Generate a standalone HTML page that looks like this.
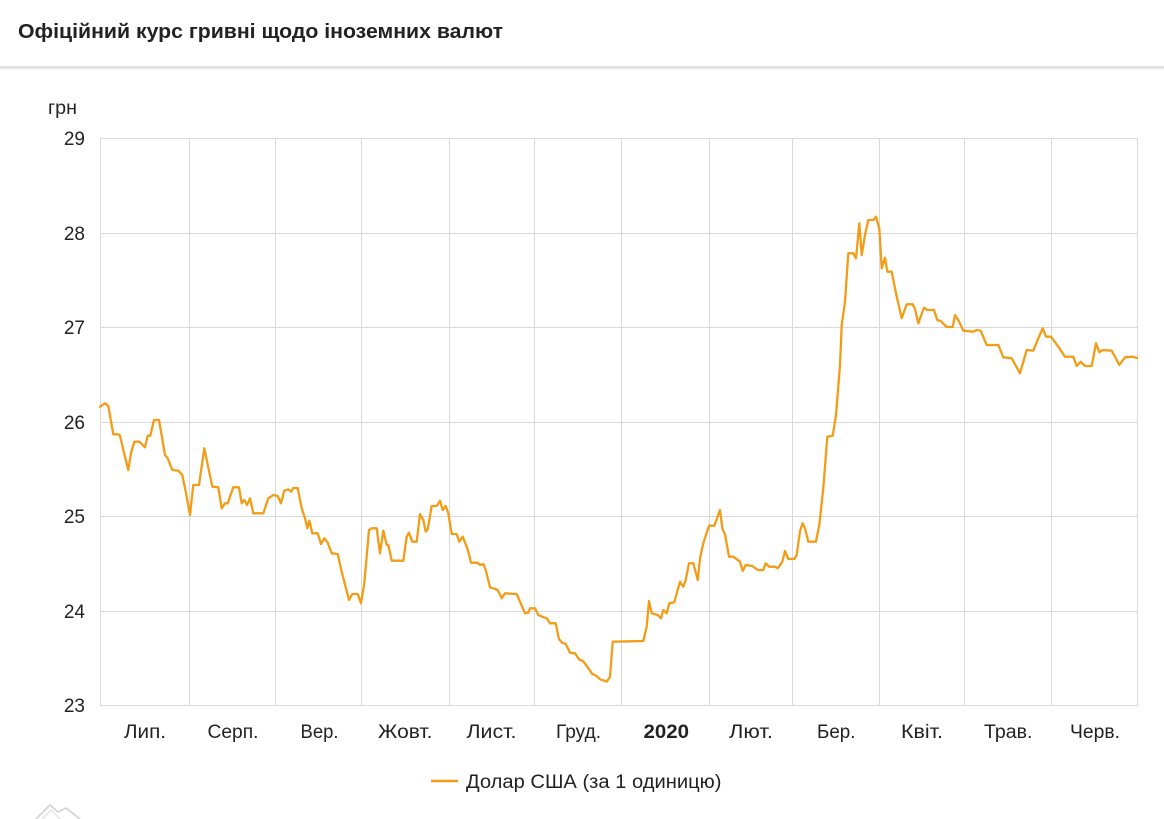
<!DOCTYPE html>
<html>
<head>
<meta charset="utf-8">
<style>
  html, body { margin: 0; padding: 0; background: #ffffff; }
  body { width: 1164px; height: 819px; overflow: hidden; }
  svg { display: block; }
  text { font-family: "Liberation Sans", "DejaVu Sans", sans-serif; fill: #222222; }
</style>
</head>
<body>
<svg width="1164" height="819" viewBox="0 0 1164 819" xmlns="http://www.w3.org/2000/svg">
  <rect x="0" y="0" width="1164" height="819" fill="#ffffff"/>

  <!-- Header -->
  <text x="18" y="38" font-size="20" font-weight="bold" textLength="485" lengthAdjust="spacingAndGlyphs" fill="#212121">Офіційний курс гривні щодо іноземних валют</text>
  <rect x="0" y="66" width="1164" height="1" fill="#e6e6e6"/>
  <rect x="0" y="67" width="1164" height="1" fill="#dcdcdc"/>
  <rect x="0" y="68" width="1164" height="1" fill="#ececec"/>
  <rect x="0" y="69" width="1164" height="1" fill="#f5f5f5"/>

  <!-- Unit label -->
  <text x="48" y="114" font-size="19" textLength="29" lengthAdjust="spacingAndGlyphs">грн</text>

  <!-- Grid -->
  <g stroke="#d9d9d9" stroke-width="1" shape-rendering="crispEdges">
    <line x1="100" y1="138.5" x2="1137" y2="138.5"/>
    <line x1="100" y1="233.5" x2="1137" y2="233.5"/>
    <line x1="100" y1="327.5" x2="1137" y2="327.5"/>
    <line x1="100" y1="422.5" x2="1137" y2="422.5"/>
    <line x1="100" y1="516.5" x2="1137" y2="516.5"/>
    <line x1="100" y1="611.5" x2="1137" y2="611.5"/>
    <line x1="100" y1="705.5" x2="1137" y2="705.5"/>

    <line x1="100.5" y1="138" x2="100.5" y2="706"/>
    <line x1="189.5" y1="138" x2="189.5" y2="706"/>
    <line x1="275.5" y1="138" x2="275.5" y2="706"/>
    <line x1="361.5" y1="138" x2="361.5" y2="706"/>
    <line x1="449.5" y1="138" x2="449.5" y2="706"/>
    <line x1="534.5" y1="138" x2="534.5" y2="706"/>
    <line x1="621.5" y1="138" x2="621.5" y2="706"/>
    <line x1="709.5" y1="138" x2="709.5" y2="706"/>
    <line x1="792.5" y1="138" x2="792.5" y2="706"/>
    <line x1="879.5" y1="138" x2="879.5" y2="706"/>
    <line x1="964.5" y1="138" x2="964.5" y2="706"/>
    <line x1="1051.5" y1="138" x2="1051.5" y2="706"/>
    <line x1="1137.5" y1="138" x2="1137.5" y2="706"/>
  </g>

  <!-- Y axis labels -->
  <g font-size="19" text-anchor="end">
    <text x="85" y="145">29</text>
    <text x="85" y="240">28</text>
    <text x="85" y="334">27</text>
    <text x="85" y="429">26</text>
    <text x="85" y="523">25</text>
    <text x="85" y="618">24</text>
    <text x="85" y="712">23</text>
  </g>

  <!-- X axis labels -->
  <g font-size="19">
    <text x="124" y="738" textLength="42" lengthAdjust="spacingAndGlyphs">Лип.</text>
    <text x="207.5" y="738" textLength="51" lengthAdjust="spacingAndGlyphs">Серп.</text>
    <text x="300.5" y="738" textLength="38" lengthAdjust="spacingAndGlyphs">Вер.</text>
    <text x="378" y="738" textLength="54.5" lengthAdjust="spacingAndGlyphs">Жовт.</text>
    <text x="466.5" y="738" textLength="50" lengthAdjust="spacingAndGlyphs">Лист.</text>
    <text x="556" y="738" textLength="45" lengthAdjust="spacingAndGlyphs">Груд.</text>
    <text x="643.5" y="738" font-weight="bold" textLength="45.5" lengthAdjust="spacingAndGlyphs">2020</text>
    <text x="729" y="738" textLength="44" lengthAdjust="spacingAndGlyphs">Лют.</text>
    <text x="817" y="738" textLength="38.5" lengthAdjust="spacingAndGlyphs">Бер.</text>
    <text x="901" y="738" textLength="42" lengthAdjust="spacingAndGlyphs">Квіт.</text>
    <text x="984" y="738" textLength="48.5" lengthAdjust="spacingAndGlyphs">Трав.</text>
    <text x="1070" y="738" textLength="50" lengthAdjust="spacingAndGlyphs">Черв.</text>
  </g>

  <!-- Series -->
  <polyline fill="none" stroke="#f39c17" stroke-width="2.3" stroke-linejoin="round" stroke-linecap="round"
    points="100,406.7 105,403.3 108.3,406 113.3,434.3 118.3,434.3 120,435.7 123.3,450 128.3,470 131,453 134.3,441.7 139.3,441.7 145,447.3 147.7,435.7 150.3,435.7 154,420 159,420 165,455 167.7,458.3 172.3,470 178.3,470.7 182.3,475 185.7,491.7 190,515 193.3,485 199,485 204.3,448.3 212.3,486.7 218.3,487.3 221.7,508.3 225,503.3 227.7,503.3 233.3,487.3 239,487.3 241.7,503.3 244.3,500 247,505 250,498.3 253.3,513.3 263.3,513.3 268.3,498.3 273.3,495 277.7,496 281,503.3 284.3,490.7 288.3,489.3 291,491.7 293.3,488 297.7,488 301.7,508.3 305,518.3 307.3,528.3 309.3,520.7 312.3,533.3 317.7,533.3 321,544 324.3,538.3 327.7,542.7 331.7,553.3 337.7,554 341.7,571.7 349,600 352.3,594 357.7,594 361,603.3
    364.3,583.3 369,530 371.7,528.3 376.7,528.3 380,553.3 383.3,530.7 386.7,545 388.3,545 391.7,560.7 403.3,560.7 406.7,536.7 409,532.7 412.3,541.7 416.7,541.7 420,514 423.3,520 425.7,531.7 427.7,529.3 431.7,506 436.7,506 440,500.7 442.7,510 445.7,506 448.3,513.3 451.7,534 456.7,534 459.3,541.7 462.7,536.7 467.7,549.3 471,562.7 477.7,562.7 480,565 483.3,564 485.7,570 490,587.3 493.3,588.3 497.7,590 501.7,598.3 505,593.3 516.7,594 520,601.7 525,613.3 528.3,612.7 530,608.3 535,608.3 538.3,615 542.3,616.7 546.7,618.3 550,623.3 555.7,623.3 559,639.3 562.3,642.7 565.7,644 570,652.7 575,653.3 579,659.3 583.3,661.3 587.7,667.3 592.3,674 595.7,675.3 600,679.3 604.3,680.7 606.7,681.7 610,676.7 612.7,641.7
    643.3,641 646.7,626.7 649,601 651.7,613.3 657.7,615 661,618.3 663.3,610 666.7,613.3 669.3,603.3 674.3,602.3 676.7,593.3 680,581.7 683.3,586.7 685.7,580 689,563.3 693.3,563.3 697.7,580 700,558.3 703.3,543.3 709,525.7 714.3,525.7 716.7,519 720,510 722.3,528.3 725,534.3 729,556.7 733.3,556.7 740,561.7 742.7,571 745.7,565 752.3,566 757.7,570 763.3,570 765.7,563.3 769,566.7 775,566.7 777.7,568.3 782.3,561.7 785,551 788.3,559 794.3,559 796.7,555 800,531 802.7,523.3 805,528.3 808.3,541.7 816,541.7
    819.3,525 823.3,488.3 827.3,436.7 832.7,435.7 836,415 840,365 841.7,325 845,301.7 848.3,253.3 853.3,253.3 856,258.3 859.3,223.3 861.7,255 865,235 868.3,220 873.3,220 876,216.7 879.3,228.3 881.7,268.3 885,257.7 887.3,271.7 891.7,271.7 896,293.3 901.7,318.3 906.7,304.3 912.7,304.3 915,309 918.3,323.3 924,307.7 927.3,310 934,310 937.3,320 940.7,321 946.7,327 952.7,327 955,315 958.3,320
    963.3,330.7 973.3,331.7 976.7,330 980.7,330.7 986.7,345 998.3,345 1003.3,357.3 1011.7,358.3 1020,373.3 1026.7,350 1033.3,350.7 1037.3,340.7 1042.7,328.3 1046,336.7 1051,336.7 1058.3,346.7 1065,356.7 1073.3,356.7 1076.7,366 1080.7,361.7 1085,366 1091.7,366 1096,343.3 1099.3,352.3 1102.7,350 1111.7,350.7 1119.3,365 1125,357.3 1132.7,356.7 1137,358"/>

  <!-- Legend -->
  <line x1="431" y1="781" x2="458" y2="781" stroke="#f39c17" stroke-width="2.5"/>
  <text x="466" y="788" font-size="19" textLength="255.5" lengthAdjust="spacingAndGlyphs">Долар США (за 1 одиницю)</text>

  <!-- Logo -->
  <polyline fill="none" stroke="#cfcfcf" stroke-width="1.5" stroke-linejoin="round"
    points="36,819 50,805 58,812 66,808 80,819"/>
  <polyline fill="none" stroke="#dedede" stroke-width="1.2" stroke-linejoin="round"
    points="42,819 51,810 60,819"/>
</svg>
</body>
</html>
